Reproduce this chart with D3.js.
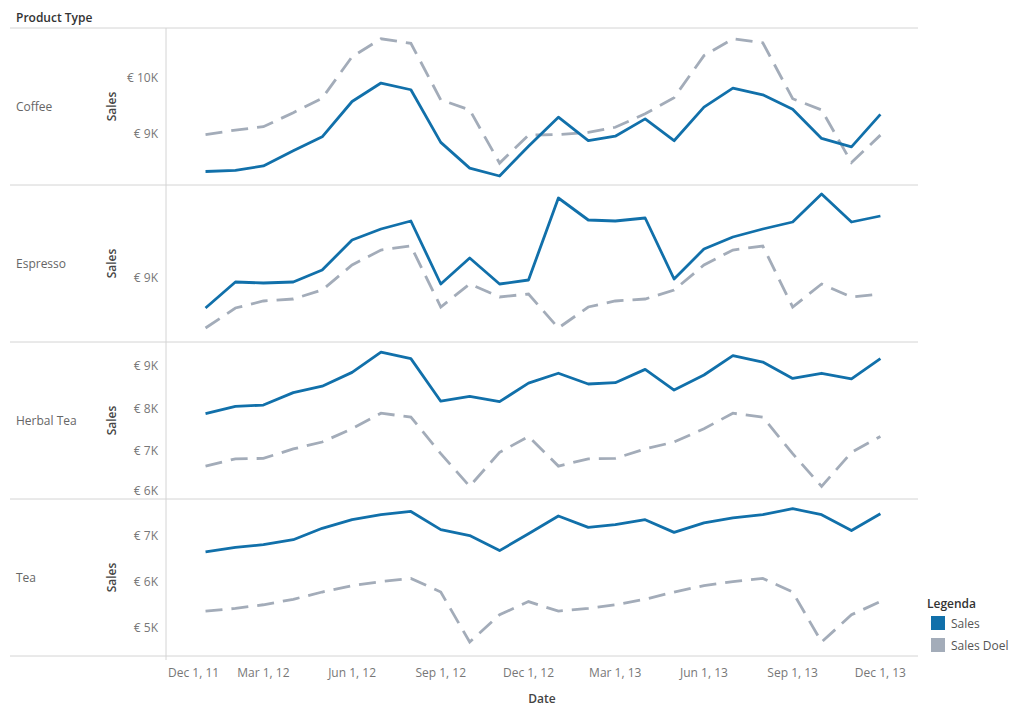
<!DOCTYPE html>
<html>
<head>
<meta charset="utf-8">
<script src="https://cdn.jsdelivr.net/npm/d3@7"></script>
<style>
  body { margin: 0; background: #fff; }
  text { font-family: "Open Sans", sans-serif; }
</style>
</head>
<body>
<div id="chart"></div>
<script>
// months Jan 2012 .. Dec 2013
const months = [
  '2012-01-01', '2012-02-01', '2012-03-01', '2012-04-01', '2012-05-01', '2012-06-01',
  '2012-07-01', '2012-08-01', '2012-09-01', '2012-10-01', '2012-11-01', '2012-12-01',
  '2013-01-01', '2013-02-01', '2013-03-01', '2013-04-01', '2013-05-01', '2013-06-01',
  '2013-07-01', '2013-08-01', '2013-09-01', '2013-10-01', '2013-11-01', '2013-12-01'
];

const productTypes = ['Coffee', 'Espresso', 'Herbal Tea', 'Tea'];

const coffeeSales = [8330, 8350, 8430, 8700, 8950, 9580, 9910, 9790, 8850, 8390, 8250, 8780,
                     9300, 8880, 8960, 9270, 8880, 9480, 9820, 9700, 9440, 8920, 8770, 9350];
const coffeeDoel  = [8990, 9070, 9130, 9380, 9640, 10380, 10700, 10620, 9610, 9430, 8480, 8980,
                     8990, 9030, 9120, 9360, 9650, 10400, 10700, 10630, 9630, 9430, 8490, 8980];

const espressoSales = [8700, 8960, 8950, 8960, 9080, 9380, 9490, 9570, 8940, 9200, 8940, 8980,
                       9800, 9580, 9570, 9600, 8990, 9290, 9410, 9490, 9560, 9840, 9560, 9620];
const espressoDoel  = [8500, 8700, 8770, 8790, 8880, 9130, 9280, 9320, 8710, 8940, 8810, 8840,
                       8500, 8710, 8770, 8790, 8880, 9130, 9280, 9320, 8710, 8940, 8810, 8840];

const herbalSales = [7880, 8050, 8080, 8370, 8520, 8840, 9310, 9160, 8170, 8280, 8160, 8590,
                     8820, 8570, 8600, 8910, 8430, 8780, 9230, 9080, 8700, 8820, 8690, 9160];
const herbalDoel  = [6660, 6830, 6840, 7060, 7220, 7530, 7890, 7800, 6950, 6190, 6980, 7350,
                     6660, 6830, 6840, 7060, 7220, 7530, 7890, 7800, 6950, 6190, 6980, 7350];

const teaSales = [6660, 6760, 6820, 6930, 7180, 7370, 7480, 7550, 7150, 7020, 6690, 7060,
                  7450, 7200, 7260, 7370, 7090, 7300, 7410, 7480, 7610, 7480, 7130, 7500];
const teaDoel  = [5360, 5420, 5500, 5620, 5780, 5920, 6010, 6080, 5780, 4680, 5280, 5570,
                  5360, 5420, 5500, 5620, 5780, 5920, 6010, 6080, 5780, 4680, 5280, 5570];

const salesByType = [coffeeSales, espressoSales, herbalSales, teaSales];
const doelByType = [coffeeDoel, espressoDoel, herbalDoel, teaDoel];

// axis ranges and ticks per row
const yDomains = [[8089, 10893], [8360, 9930], [5895, 9547], [4374, 7824]];
const yTicks = [[9000, 10000], [9000], [6000, 7000, 8000, 9000], [5000, 6000, 7000]];

const xTicks = ['2011-12-01', '2012-03-01', '2012-06-01', '2012-09-01', '2012-12-01',
                '2013-03-01', '2013-06-01', '2013-09-01', '2013-12-01'];

const seriesNames = ['Sales', 'Sales Doel'];
const seriesColors = ['#1170aa', '#a3acb9'];

const width = 1024, height = 718;
const paneLeft = 166, paneRight = 918, rowsTop = 28, rowH = 157;
const parse = d3.timeParse('%Y-%m-%d');

const svg = d3.select('#chart').append('svg')
  .attr('width', width)
  .attr('height', height);

const x = d3.scaleTime()
  .domain([parse('2011-11-21'), parse('2014-01-09')])
  .range([paneLeft, paneRight]);

const euro = (v) => '€ ' + (v / 1000) + 'K';

svg.append('text')
  .attr('x', 16).attr('y', 22)
  .attr('font-size', 12).attr('font-weight', 600).attr('fill', '#333')
  .text('Product Type');

productTypes.forEach((name, i) => {
  const top = rowsTop + i * rowH;
  const bottom = top + rowH;

  const y = d3.scaleLinear().domain(yDomains[i]).range([bottom, top]);

  // row separator
  svg.append('line')
    .attr('x1', 10).attr('x2', paneRight)
    .attr('y1', top).attr('y2', top)
    .attr('stroke', '#d4d4d4');

  svg.append('text')
    .attr('x', 16).attr('y', (top + bottom) / 2 + 4)
    .attr('font-size', 12).attr('fill', '#666')
    .text(name);

  svg.append('text')
    .attr('transform', `translate(116, ${(top + bottom) / 2}) rotate(-90)`)
    .attr('text-anchor', 'middle')
    .attr('font-size', 12).attr('font-weight', 600).attr('fill', '#444')
    .text('Sales');

  // y tick labels, kept inside the row
  yTicks[i].forEach((t) => {
    const ty = Math.min(Math.max(y(t), top + 8), bottom - 8);
    svg.append('text')
      .attr('x', 158).attr('y', ty + 4)
      .attr('text-anchor', 'end')
      .attr('font-size', 12).attr('fill', '#777')
      .text(euro(t));
  });

  const line = d3.line()
    .x((d, j) => x(parse(months[j])))
    .y((d) => y(d));

  svg.append('path')
    .datum(doelByType[i])
    .attr('d', line)
    .attr('fill', 'none')
    .attr('stroke', seriesColors[1])
    .attr('stroke-width', 2.8)
    .attr('stroke-dasharray', '17,9');

  svg.append('path')
    .datum(salesByType[i])
    .attr('d', line)
    .attr('fill', 'none')
    .attr('stroke', seriesColors[0])
    .attr('stroke-width', 2.8)
    .attr('stroke-linejoin', 'round');
});

const lastY = rowsTop + productTypes.length * rowH;
svg.append('line')
  .attr('x1', 10).attr('x2', paneRight)
  .attr('y1', lastY).attr('y2', lastY)
  .attr('stroke', '#d4d4d4');

svg.append('line')
  .attr('x1', paneLeft).attr('x2', paneLeft)
  .attr('y1', rowsTop).attr('y2', lastY + 4)
  .attr('stroke', '#d4d4d4');

// x axis labels
const fmt = d3.timeFormat('%b %-d, %y');
xTicks.forEach((t) => {
  const lbl = svg.append('text')
    .attr('x', x(parse(t))).attr('y', 677)
    .attr('text-anchor', 'middle')
    .attr('font-size', 12).attr('fill', '#777')
    .text(fmt(parse(t)));
  const bb = lbl.node().getBBox();
  if (bb.x < paneLeft + 2) lbl.attr('x', x(parse(t)) + (paneLeft + 2 - bb.x));
});

svg.append('text')
  .attr('x', 542).attr('y', 703)
  .attr('text-anchor', 'middle')
  .attr('font-size', 12).attr('font-weight', 600).attr('fill', '#444')
  .text('Date');

// legend
svg.append('text')
  .attr('x', 927).attr('y', 608)
  .attr('font-size', 12).attr('font-weight', 600).attr('fill', '#333')
  .text('Legenda');

seriesNames.forEach((s, i) => {
  svg.append('rect')
    .attr('x', 931).attr('y', 616 + i * 22)
    .attr('width', 14).attr('height', 14)
    .attr('fill', seriesColors[i]);
  svg.append('text')
    .attr('x', 951).attr('y', 628 + i * 22)
    .attr('font-size', 12).attr('fill', '#555')
    .text(s);
});
</script>
</body>
</html>
